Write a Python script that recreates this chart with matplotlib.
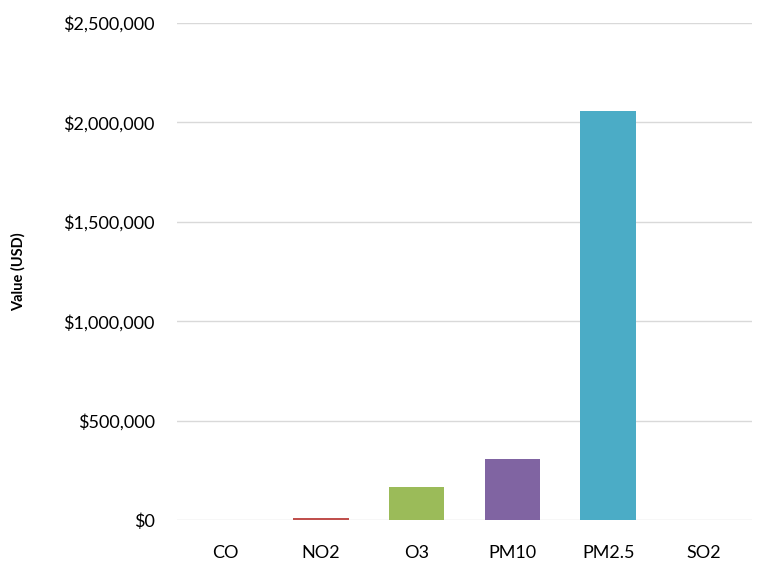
#!/usr/bin/env python3
import matplotlib
matplotlib.use("Agg")
import matplotlib.pyplot as plt
from matplotlib.ticker import FuncFormatter, MultipleLocator

pollutants = ["CO", "NO2", "O3", "PM10", "PM2.5", "SO2"]
values_usd = [500, 8000, 166000, 305000, 2055000, 300]
bar_colors = ["#4F81BD", "#C0504D", "#9BBB59", "#8064A2", "#4BACC6", "#F79646"]

plt.rcParams["font.family"] = ["Lato", "DejaVu Sans"]

fig = plt.figure(figsize=(7.59, 5.67), dpi=100)
ax = fig.add_axes([177 / 759, 1 - 520 / 567, (752 - 177) / 759, 497 / 567])

x = range(len(pollutants))
ax.bar(x, values_usd, width=0.58, color=bar_colors, zorder=3)

ax.set_xlim(-0.5, len(pollutants) - 0.5)
ax.set_ylim(0, 2500000)
ax.yaxis.set_major_locator(MultipleLocator(500000))
ax.yaxis.set_major_formatter(FuncFormatter(lambda v, _: f"${v:,.0f}"))
ax.grid(axis="y", color="#D9D9D9", linewidth=1.0, zorder=0)
ax.set_xticks(list(x))
ax.set_xticklabels(pollutants)
ax.tick_params(axis="both", length=0, labelsize=13, colors="#000000")
ax.tick_params(axis="y", pad=16)
ax.tick_params(axis="x", pad=18)
for s in ax.spines.values():
    s.set_visible(False)

ax.set_ylabel("Value (USD)", fontsize=10.5, fontweight="bold")
ax.yaxis.set_label_coords(-151 / 575, 0.5)

fig.savefig("out.png", dpi=100)
